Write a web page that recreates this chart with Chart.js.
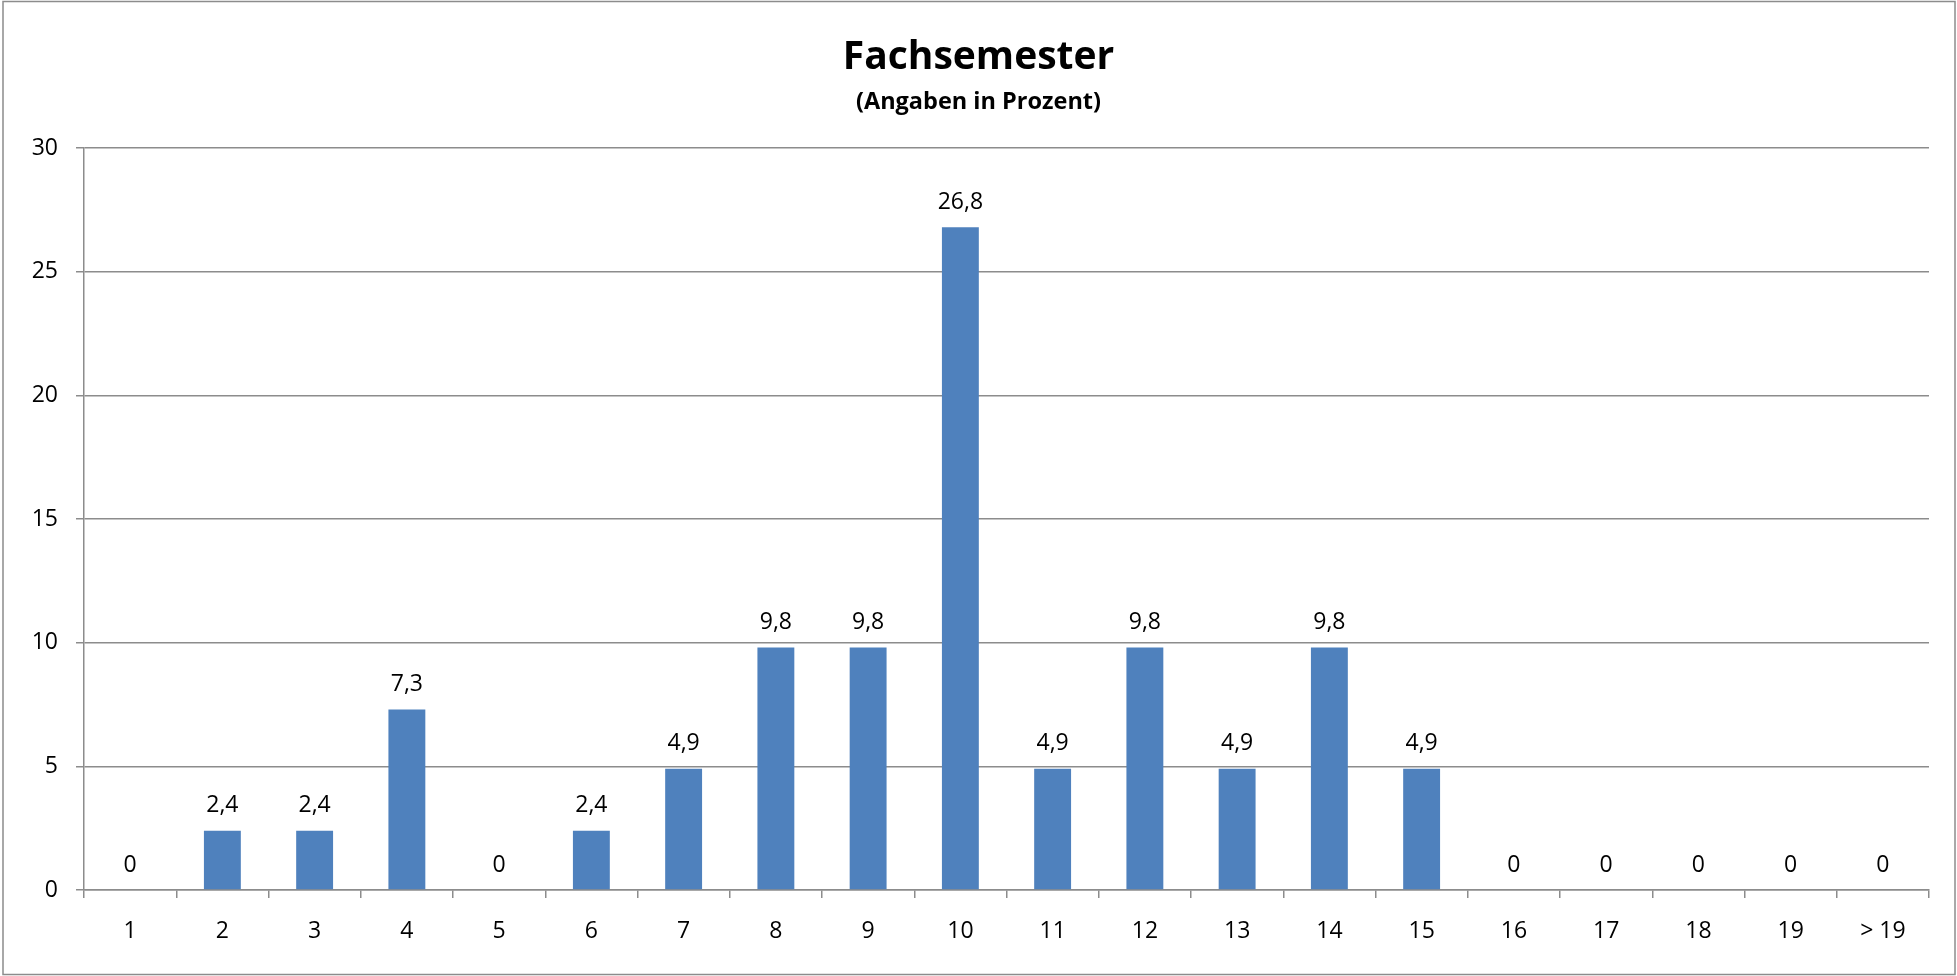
<!DOCTYPE html>
<html>
<head>
<meta charset="utf-8">
<script src="https://cdn.jsdelivr.net/npm/chart.js@4/dist/chart.umd.min.js"></script>
<style>
    html, body { margin: 0; padding: 0; background: #fff; }
    #wrap { width: 1957px; height: 976px; position: relative; }
</style>
</head>
<body>
<div id="wrap"><canvas id="semesterChart"></canvas></div>
<script>
// Fachsemester distribution, values in percent
const categories = ['1', '2', '3', '4', '5', '6', '7', '8', '9', '10',
    '11', '12', '13', '14', '15', '16', '17', '18', '19', '> 19'];
const percentValues = [0, 2.4, 2.4, 7.3, 0, 2.4, 4.9, 9.8, 9.8, 26.8,
    4.9, 9.8, 4.9, 9.8, 4.9, 0, 0, 0, 0, 0];
const yTicks = [0, 5, 10, 15, 20, 25, 30];

const FONT = "'Open Sans', 'Liberation Sans', sans-serif";
const GRID = '#8c8c8c';

// frame around the whole chart
const framePlugin = {
    id: 'frame',
    beforeDraw(chart) {
        const ctx = chart.ctx;
        ctx.save();
        ctx.fillStyle = '#fff';
        ctx.fillRect(0, 0, chart.width, chart.height);
        ctx.strokeStyle = '#8c8c8c';
        ctx.lineWidth = 1.5;
        ctx.strokeRect(3, 1.5, chart.width - 5, chart.height - 3);
        ctx.restore();
    }
};

// value labels above bars, German decimal comma
const valueLabels = {
    id: 'valueLabels',
    afterDatasetsDraw(chart) {
        const ctx = chart.ctx;
        const meta = chart.getDatasetMeta(0);
        ctx.save();
        ctx.font = '23px ' + FONT;
        ctx.fillStyle = '#000';
        ctx.textAlign = 'center';
        ctx.textBaseline = 'middle';
        meta.data.forEach((bar, i) => {
            const text = String(percentValues[i]).replace('.', ',');
            ctx.fillText(text, bar.x, bar.y - 25);
        });
        ctx.restore();
    }
};

new Chart(document.getElementById('semesterChart'), {
    type: 'bar',
    data: {
        labels: categories,
        datasets: [{
            data: percentValues,
            backgroundColor: '#4f81bd',
            barPercentage: 0.4,
            categoryPercentage: 1.0
        }]
    },
    options: {
        responsive: true,
        maintainAspectRatio: false,
        animation: false,
        layout: { padding: { left: 28, right: 28, top: 0, bottom: 0 } },
        plugins: {
            legend: { display: false },
            tooltip: { enabled: false },
            title: {
                display: true,
                text: 'Fachsemester',
                color: '#000',
                font: { family: FONT, size: 39, weight: 'bold', lineHeight: 1.2 },
                padding: { top: 34, bottom: 2 }
            },
            subtitle: {
                display: true,
                text: '(Angaben in Prozent)',
                color: '#000',
                font: { family: FONT, size: 23.5, weight: 'bold', lineHeight: 1.2 },
                padding: { top: 5, bottom: 32 }
            }
        },
        scales: {
            x: {
                grid: {
                    offset: true,
                    drawOnChartArea: false,
                    drawTicks: true,
                    tickLength: 8,
                    color: GRID,
                    lineWidth: 1.5
                },
                border: { display: true, color: GRID, width: 1.5 },
                ticks: {
                    color: '#000',
                    font: { family: FONT, size: 23 },
                    padding: 20,
                    maxRotation: 0,
                    autoSkip: false
                },
                afterFit(scale) { scale.height = 86; }
            },
            y: {
                min: 0,
                max: 30,
                afterBuildTicks(scale) {
                    scale.ticks = yTicks.map(v => ({ value: v }));
                },
                grid: {
                    color: GRID,
                    lineWidth: 1.5,
                    tickLength: 8
                },
                border: { display: true, color: GRID, width: 1.5 },
                ticks: {
                    color: '#000',
                    font: { family: FONT, size: 23 },
                    padding: 18
                },
                afterFit(scale) { scale.width = 56; }
            }
        }
    },
    plugins: [framePlugin, valueLabels]
});
</script>
</body>
</html>
